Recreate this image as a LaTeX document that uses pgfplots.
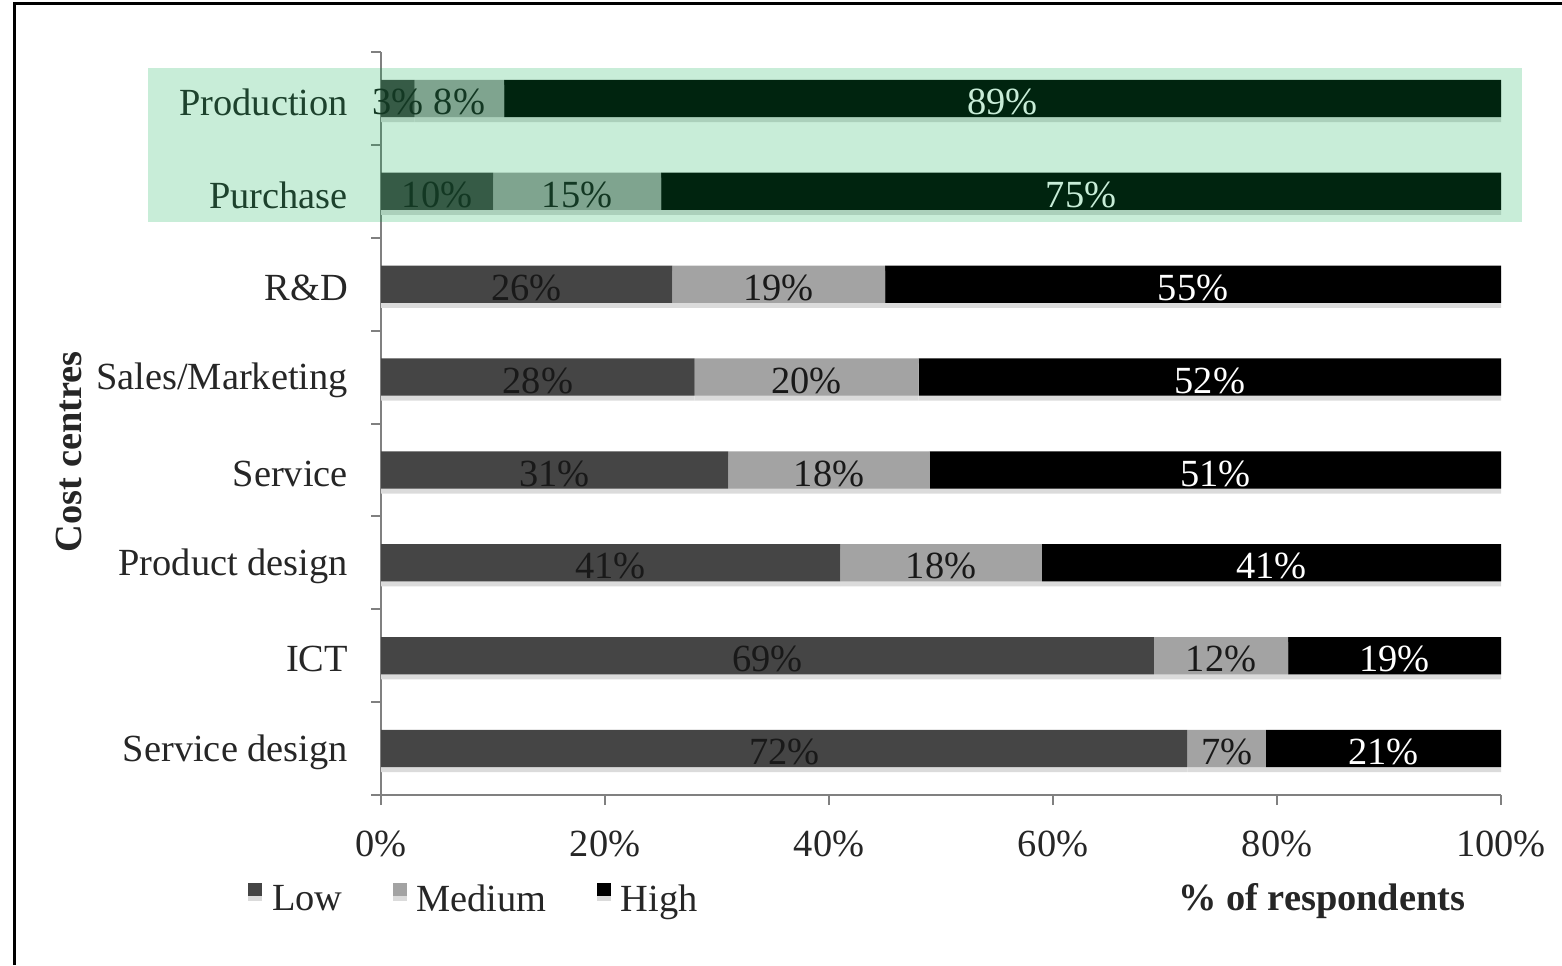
\documentclass[border=0pt]{standalone}
\usepackage{fontspec}
\setmainfont{Liberation Serif}
\usepackage{pgfplots}
\usepackage{pgfplotstable}
\pgfplotsset{compat=1.18}
\definecolor{lowc}{HTML}{454545}
\definecolor{medc}{HTML}{A3A3A3}
\definecolor{hic}{HTML}{000000}
\definecolor{hl}{RGB}{0,171,74}
\definecolor{txt}{HTML}{262626}
\newcommand\fs{\fontsize{19.2pt}{23pt}\selectfont}
\tikzset{bshadow/.style={preaction={fill=black!14, transform canvas={yshift=-2.5pt}}}}
\pgfplotstableread{
y low med high
7 3 8 89
6 10 15 75
5 26 19 55
4 28 20 52
3 31 18 51
2 41 18 41
1 69 12 19
0 72 7 21
}\data
\begin{document}
\begin{tikzpicture}
\useasboundingbox (0,0) rectangle (781pt,482.5pt);
\begin{axis}[
  at={(190.5pt,85pt)}, anchor=south west,
  scale only axis, width=560pt, height=371.5pt,
  xbar stacked, bar width=0.4,
  xmin=0, xmax=100, ymin=-0.5, ymax=7.5,
  axis x line*=bottom, axis y line*=left,
  axis line style={black!50, line width=1pt},
  every tick/.style={black!50, line width=1pt},
  tick align=outside, major tick length=5pt,
  xtick={0,20,...,100}, xticklabels={0\%,20\%,40\%,60\%,80\%,100\%},
  ytick={-0.5,0.5,...,7.5}, yticklabels={},
  extra y ticks={0,1,...,7},
  extra y tick labels={Service design,ICT,Product design,Service,Sales/Marketing,R\&D,Purchase,Production},
  extra y tick style={major tick length=0pt},
  tick label style={font=\fs, text=txt},
  xticklabel style={yshift=-9.5pt},
  yticklabel style={xshift=-13pt, yshift=-1.8pt},
  xlabel={\bfseries\% of respondents},
  xlabel style={at={(axis description cs:0.84,-0.156)}, anchor=base, font=\fs, text=txt},
  ylabel={\bfseries Cost centres},
  ylabel style={at={(axis description cs:-0.279,0.462)}, anchor=center, rotate=0, font=\fs, text=txt},
  legend style={at={(axis description cs:-0.119,-0.141)}, anchor=west, draw=none, fill=none,
    legend columns=3, font=\fs, text=txt, inner sep=0pt,
    /tikz/every even column/.append style={column sep=23pt}},
  legend image code/.code={\fill[#1] (0pt,2pt) rectangle (7pt,8.5pt); \path (0pt,0pt) (10pt,0pt);},
  legend cell align=left,
]
\addplot[fill=lowc, draw=none, bshadow,
  nodes near coords={\pgfplotspointmeta\%}, point meta=explicit symbolic,
  every node near coord/.append style={anchor=center, yshift=-1.8pt, text=black!90, font=\fs}]
  table[x=low,y=y,meta=low]{\data};
\addplot[fill=medc, draw=none, bshadow,
  nodes near coords={\pgfplotspointmeta\%}, point meta=explicit symbolic,
  every node near coord/.append style={anchor=center, yshift=-1.8pt, text=black!90, font=\fs}]
  table[x=med,y=y,meta=med]{\data};
\addplot[fill=hic, draw=none, bshadow,
  nodes near coords={\pgfplotspointmeta\%}, point meta=explicit symbolic,
  every node near coord/.append style={anchor=center, yshift=-1.8pt, text=white, font=\fs}]
  table[x=high,y=y,meta=high]{\data};
\legend{Low,Medium,High}
\end{axis}
\fill[hl, fill opacity=0.216] (74pt,371.5pt) rectangle (761pt,448.5pt);
\draw[black, line width=1.5pt] (7pt,0pt) -- (7pt,480.5pt) -- (781pt,480.5pt);
\end{tikzpicture}
\end{document}
